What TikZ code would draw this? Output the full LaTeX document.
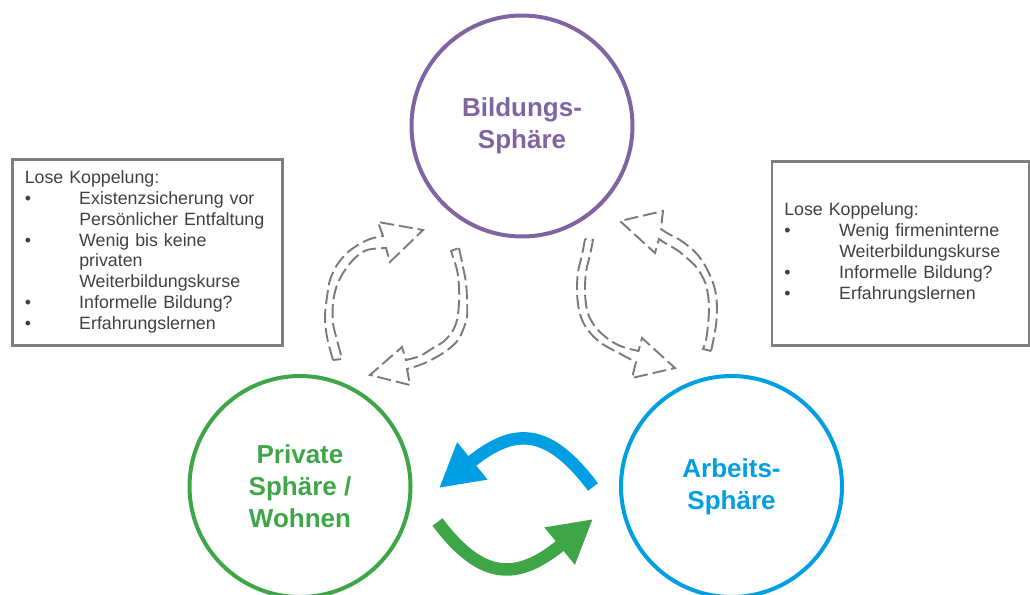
\documentclass[tikz,border=0pt]{standalone}
\usepackage{fontspec}
\setmainfont{Liberation Sans}
\usetikzlibrary{arrows.meta}
\definecolor{bildung}{HTML}{8064A2}
\definecolor{privat}{HTML}{3FA648}
\definecolor{arbeit}{HTML}{009FE3}
\definecolor{dashgray}{HTML}{7A7A7A}
\definecolor{boxgray}{HTML}{7F7F7F}
\definecolor{textgray}{HTML}{404040}
\begin{document}
\begin{tikzpicture}[x=1pt,y=-1pt,
  sphere/.style={circle, draw, line width=4pt, minimum size=221pt, inner sep=0pt,
    align=center, font=\fontsize{26}{32}\selectfont\bfseries},
  infobox/.style={draw=boxgray, line width=2.5pt, inner xsep=12.5pt, inner ysep=0pt,
    align=left, anchor=north west, text=textgray,
    font=\fontsize{17.8}{20.8}\selectfont},
  dasharrow/.style={draw=dashgray, line width=1.9pt, dash pattern=on 14pt off 5pt},
  cyclearrow/.style={line width=12.5pt, -{Triangle[width=45pt,length=43pt]}}
]
\clip (0,0) rectangle (1030,594);

% the three spheres
\node[sphere, draw=bildung, text=bildung] (bild) at (522,126) {Bildungs-\\Sphäre};
\node[sphere, draw=privat, text=privat] (priv) at (300,486.5) {Private\\Sphäre /\\Wohnen};
\node[sphere, draw=arbeit, text=arbeit] (arb) at (731.5,486.5) {Arbeits-\\Sphäre};

% coupling notes
\node[infobox, text width=245pt, minimum height=186pt] (noteL) at (11,158) {%
  \begin{tabular}{@{}p{54.5pt}@{}l@{}}
    \multicolumn{2}{@{}l@{}}{Lose Koppelung:}\\
    \textbullet & Existenzsicherung vor\\
                & Persönlicher Entfaltung\\
    \textbullet & Wenig bis keine\\
                & privaten\\
                & Weiterbildungskurse\\
    \textbullet & Informelle Bildung?\\
    \textbullet & Erfahrungslernen
  \end{tabular}};
\node[infobox, text width=232pt, minimum height=184pt] (noteR) at (770.5,160) {%
  \begin{tabular}{@{}p{55pt}@{}l@{}}
    \multicolumn{2}{@{}l@{}}{Lose Koppelung:}\\
    \textbullet & Wenig firmeninterne\\
                & Weiterbildungskurse\\
    \textbullet & Informelle Bildung?\\
    \textbullet & Erfahrungslernen
  \end{tabular}};

% strong coupling between private and work sphere
\draw[cyclearrow, arbeit] ([shift={(-26,0.5)}]arb.west)
  .. controls +(-45,-60) and +(75,-61) .. ([shift={(26.5,1.5)}]priv.east);
\draw[cyclearrow, privat] ([shift={(25,35.5)}]priv.east)
  .. controls +(45,60) and +(-75,61) .. ([shift={(-26,32.5)}]arb.west);

% loose coupling: outlined dashed block arrows (left pair)
\draw[dasharrow] plot[smooth, tension=0.55] coordinates {(333,360) (327,337) (325,317) (327,297) (330,280) (337,265) (347,253) (358,245) (370,239) (383,236)}
  -- (378,222) -- (423,230) -- (390,262)
  -- plot[smooth, tension=0.55] coordinates {(386,248) (367,250) (355,258) (345,270) (337,285) (333,303) (333,323) (337,340) (342,359)}
  -- cycle;
\draw[dasharrow] plot[smooth, tension=0.55] coordinates {(459,248) (463,267) (466,283) (467,300) (467,317) (463,330) (458,340) (450,348) (440,355) (427,362) (417,366) (407,369)}
  -- (410,385) -- (370,375) -- (402,347)
  -- plot[smooth, tension=0.55] coordinates {(406,360) (420,356) (433,348) (443,342) (452,332) (457,320) (459,303) (459,287) (457,270) (451,251)}
  -- cycle;

% loose coupling: outlined dashed block arrows (right pair)
\draw[dasharrow] plot[smooth, tension=0.55] coordinates {(585,239) (582,255) (578,272) (577,292) (579,310) (584,324) (593,336) (604,345) (617,352) (628,358) (636,362)}
  -- (632,378) -- (675,368) -- (642,338)
  -- plot[smooth, tension=0.55] coordinates {(638.5,351) (623,347) (611,341) (600,332) (592,322) (587,310) (585,292) (586,272) (590,255) (593,240)}
  -- cycle;
\draw[dasharrow] plot[smooth, tension=0.55] coordinates {(711,351) (713,342) (716,325) (717,310) (716,295) (712,280) (703,262) (693,250) (680,240) (667,233) (661,229)}
  -- (663,211) -- (620,221) -- (655,253)
  -- plot[smooth, tension=0.55] coordinates {(659,239) (665,243) (677,250) (688,259) (697,268) (705,282) (708,295) (709,308) (708,325) (706,340) (703,349)}
  -- cycle;
\end{tikzpicture}
\end{document}
